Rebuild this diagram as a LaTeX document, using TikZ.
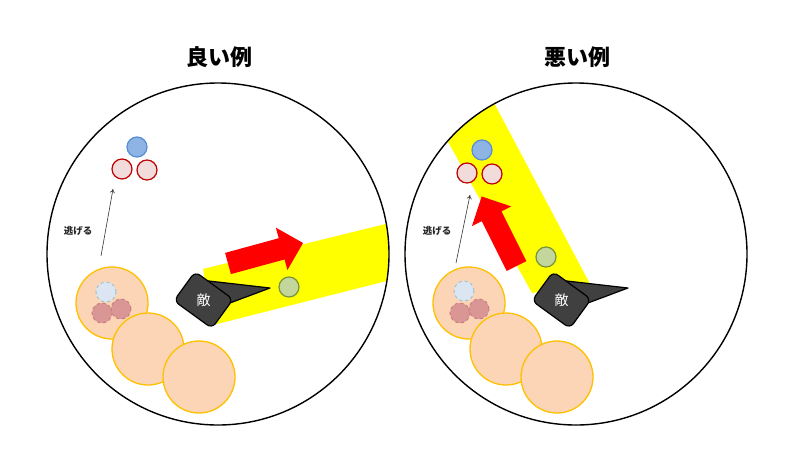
\documentclass[tikz,border=0pt]{standalone}
\usepackage{fontspec}
\newfontfamily\jp{Noto Sans CJK JP}
\usetikzlibrary{arrows.meta}
\definecolor{peach}{HTML}{FBD5B5}
\definecolor{peachline}{HTML}{FFC000}
\definecolor{bluefill}{HTML}{8EB4E3}
\definecolor{blueline}{HTML}{558ED5}
\definecolor{pinkfill}{HTML}{F2DCDB}
\definecolor{pinkline}{HTML}{C00000}
\definecolor{ghostblue}{HTML}{DCE6F2}
\definecolor{ghostblueline}{HTML}{9DC3D4}
\definecolor{ghostred}{HTML}{D99694}
\definecolor{ghostredline}{HTML}{C97F7E}
\definecolor{greenfill}{HTML}{C3D69B}
\definecolor{greenline}{HTML}{77933C}
\definecolor{enemygray}{HTML}{404040}
\definecolor{beam}{HTML}{FFFF00}
\definecolor{bigred}{HTML}{FF0000}
\tikzset{
  field/.style={draw=black, line width=1.4pt},
  bigball/.style={circle, inner sep=0pt, minimum size=72pt, fill=peach, draw=peachline, line width=1.3pt},
  blueball/.style={circle, inner sep=0pt, minimum size=20pt, fill=bluefill, draw=blueline, line width=1.2pt},
  pinkball/.style={circle, inner sep=0pt, minimum size=20pt, fill=pinkfill, draw=pinkline, line width=1.2pt},
  ghostb/.style={circle, inner sep=0pt, minimum size=20pt, fill=ghostblue, draw=ghostblueline, line width=1pt, dashed},
  ghostr/.style={circle, inner sep=0pt, minimum size=20pt, fill=ghostred, draw=ghostredline, line width=1pt, dashed},
  greenball/.style={circle, inner sep=0pt, minimum size=20pt, fill=greenfill, draw=greenline, line width=1.2pt},
  titlelbl/.style={font=\jp\bfseries\fontsize{22}{22}\selectfont, inner sep=0pt},
  esclbl/.style={font=\jp\bfseries\fontsize{9.5}{9.5}\selectfont, text=black!85, inner sep=0pt},
  escarrow/.style={draw=black!80, line width=0.6pt, -{To[length=4pt,width=5pt]}},
  enemybox/.style={rectangle, rounded corners=6pt, minimum width=47pt, minimum height=36pt, rotate=-36, draw=black, line width=1.2pt, fill=enemygray, inner sep=0pt},
  enemylbl/.style={text=white, font=\jp\fontsize{14}{14}\selectfont, inner sep=0pt},
  bigarrow/.style={fill=bigred, draw=none},
  beamfill/.style={fill=beam, draw=none},
  enemy/.pic={
    \draw[fill=enemygray, draw=black, line width=1.2pt, line join=round] (-3.5,-20) -- (66.5,-12) -- (16.5,6.7) -- cycle;
    \node[enemybox] (-box) at (0,0) {};
    \node[enemylbl] (-lbl) at (0,0) {敵};
  }
}
\begin{document}
\begin{tikzpicture}[x=1pt,y=-1pt]
\useasboundingbox (0,0) rectangle (800,472);
\fill[white] (0,0) rectangle (800,472);

% titles
\node[titlelbl] (t1) at (219,57) {良い例};
\node[titlelbl] (t2) at (577,57) {悪い例};

% ================= left panel =================
\begin{scope}
  \clip (218,254) circle[radius=171];
  \fill[beamfill] (203,269) -- (430,213) -- (430,270) -- (213,325) -- cycle;
\end{scope}
\draw[field] (218,254) circle[radius=171];

\fill[bigarrow, shift={(228,263.5)}, rotate=15.3]
  (0,-11) -- (55.6,-11) -- (55.6,-22) -- (77.8,0) -- (55.6,22) -- (55.6,11) -- (0,11) -- cycle;

\node[greenball] (g1) at (289,287) {};
\pic (e1) at (203.5,300) {enemy};

\node[blueball] (b1) at (137,147) {};
\node[pinkball] (p1a) at (122,169) {};
\node[pinkball] (p1b) at (147,170) {};

\node[bigball] (c1a) at (112,303) {};
\node[ghostb] (gb1) at (106,292) {};
\node[ghostr] (gr1a) at (102,313) {};
\node[ghostr] (gr1b) at (121,309) {};
\node[bigball] (c1b) at (148,349) {};
\node[bigball] (c1c) at (199,377) {};

\coordinate (s1) at (101,256);
\coordinate (f1) at (113,189);
\draw[escarrow] (s1) -- (f1);
\node[esclbl] (l1) at (78,231) {逃げる};

% ================= right panel =================
\begin{scope}
  \clip (576,254) circle[radius=171];
  \fill[beamfill] (532,293) -- (397,50) -- (466,50) -- (590,284) -- cycle;
\end{scope}
\draw[field] (576,254) circle[radius=171];

\fill[bigarrow, shift={(516.5,266)}, rotate=116.6]
  (0,-11) -- (55.6,-11) -- (55.6,-22) -- (77.8,0) -- (55.6,22) -- (55.6,11) -- (0,11) -- cycle;

\node[greenball] (g2) at (546,257) {};
\pic (e2) at (561.5,300) {enemy};

\node[blueball] (b2) at (482,150) {};
\node[pinkball] (p2a) at (467,173) {};
\node[pinkball] (p2b) at (492,174) {};

\node[bigball] (c2a) at (469,303) {};
\node[ghostb] (gb2) at (464,291) {};
\node[ghostr] (gr2a) at (460,313) {};
\node[ghostr] (gr2b) at (479,309) {};
\node[bigball] (c2b) at (506,349) {};
\node[bigball] (c2c) at (557,377) {};

\coordinate (s2) at (456,263);
\coordinate (f2) at (470,195);
\draw[escarrow] (s2) -- (f2);
\node[esclbl] (l2) at (437,231) {逃げる};
\end{tikzpicture}
\end{document}
